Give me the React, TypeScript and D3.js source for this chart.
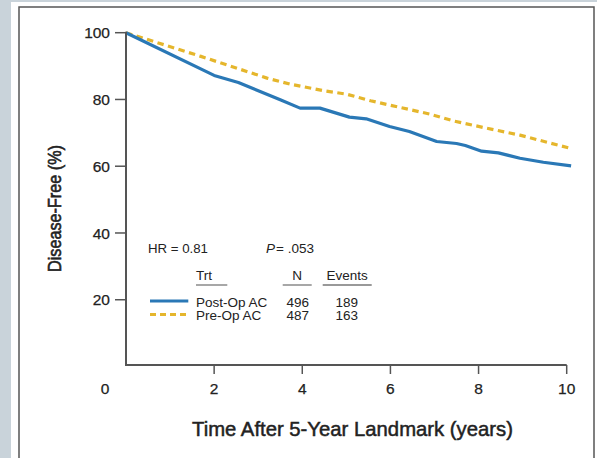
import React from "react";
import * as d3 from "d3";

const W = 597;
const H = 458;

// Disease-free curves (years, %)
const postOpX = [0, 2.0, 2.55, 3.5, 3.95, 4.4, 5.07, 5.45, 5.98, 6.43, 7.05, 7.5, 7.7, 8.07, 8.45, 8.94, 9.47, 10.1];
const postOpY = [100, 87.2, 85.1, 79.9, 77.4, 77.4, 74.7, 74.2, 71.9, 70.4, 67.4, 66.8, 66.2, 64.5, 64.0, 62.4, 61.2, 60.1];
const preOpX = [0, 1.7, 3.2, 3.72, 4.45, 5.0, 5.25, 5.55, 6.9, 7.42, 8.18, 8.94, 10.1];
const preOpY = [100, 92.9, 86.4, 84.6, 82.7, 81.6, 80.7, 79.6, 75.6, 73.6, 71.4, 69.3, 65.3];

const xTicks = [2, 4, 6, 8, 10];
const yTicks = [20, 40, 60, 80, 100];

const trtNames = ["Post-Op AC", "Pre-Op AC"];
const trtN = ["496", "487"];
const trtEvents = ["189", "163"];
const hrText = "HR = 0.81";
const pText = "= .053";

const BLUE = "#2a78b6";
const YELLOW = "#e5b62c";
const AXIS = "#555";
const TXT = "#222";
const FONT = "'Liberation Sans', Arial, Helvetica, sans-serif";

export default function App() {
  const x = d3.scaleLinear().domain([0, 10]).range([126, 566.7]);
  const y = d3.scaleLinear().domain([0, 100]).range([366.5, 32.7]);
  const axisY = 365;

  const mk = (xs: number[], ys: number[]) =>
    d3
      .line<number>()
      .x((d) => x(d))
      .y((_, i) => y(ys[i]))(xs) as string;

  const postPath = mk(postOpX, postOpY);
  const prePath = mk(preOpX, preOpY);

  const rowY = [306.5, 320];
  const colors = [BLUE, YELLOW];

  return (
    <svg
      width={W}
      height={H}
      style={{ position: "absolute", left: 0, top: 0 }}
      fontFamily={FONT}
    >
      <rect x={0} y={0} width={W} height={H} fill="#c9d3da" />
      <rect x={11} y={2} width={W - 11} height={H} fill="#ffffff" />
      <rect x={19} y={7} width={575} height={470} fill="#ffffff" stroke={AXIS} strokeWidth={1.5} />

      {/* curves */}
      <path d={prePath} fill="none" stroke={YELLOW} strokeWidth={3.2} strokeDasharray="6.5 4.5" />
      <path d={postPath} fill="none" stroke={BLUE} strokeWidth={3.2} strokeLinejoin="round" />

      {/* axes */}
      <line x1={x(0)} x2={x(0)} y1={y(100) - 1} y2={axisY + 1} stroke={AXIS} strokeWidth={2} />
      <line x1={x(0) - 1} x2={x(10)} y1={axisY} y2={axisY} stroke={AXIS} strokeWidth={2} />
      {yTicks.map((t) => (
        <g key={"y" + t}>
          <line x1={x(0) - 11} x2={x(0)} y1={y(t)} y2={y(t)} stroke={AXIS} strokeWidth={1.5} />
          <text x={110} y={y(t)} dy="0.36em" textAnchor="end" fontSize={15.5} fill={TXT} stroke={TXT} strokeWidth={0.25}>
            {t}
          </text>
        </g>
      ))}
      {xTicks.map((t) => (
        <g key={"x" + t}>
          <line x1={x(t)} x2={x(t)} y1={axisY} y2={axisY + 9} stroke={AXIS} strokeWidth={1.5} />
          <text x={x(t)} y={394} textAnchor="middle" fontSize={15.5} fill={TXT} stroke={TXT} strokeWidth={0.25}>
            {t}
          </text>
        </g>
      ))}
      <text x={105} y={394} textAnchor="middle" fontSize={15.5} fill={TXT} stroke={TXT} strokeWidth={0.25}>
        0
      </text>

      {/* axis titles */}
      <text
        transform="translate(61,208.5) rotate(-90)"
        textAnchor="middle"
        fontSize={18}
        fill={TXT}
        stroke={TXT}
        strokeWidth={0.6}
        textLength={127}
        lengthAdjust="spacingAndGlyphs"
      >
        Disease-Free (%)
      </text>
      <text
        x={352.5}
        y={436}
        textAnchor="middle"
        fontSize={21}
        fill={TXT}
        stroke={TXT}
        strokeWidth={0.5}
        textLength={321}
        lengthAdjust="spacingAndGlyphs"
      >
        Time After 5-Year Landmark (years)
      </text>

      {/* legend */}
      <text x={148} y={253} fontSize={13.5} fill={TXT} textLength={60} lengthAdjust="spacingAndGlyphs">
        {hrText}
      </text>
      <text x={266} y={253} fontSize={13.5} fill={TXT}>
        <tspan fontStyle="italic">P</tspan>
        <tspan dx={1}>{pText}</tspan>
      </text>
      <text x={196} y={280} fontSize={13.5} fill={TXT}>Trt</text>
      <text x={297.2} y={280} fontSize={13.5} fill={TXT} textAnchor="middle">N</text>
      <text x={347.2} y={280} fontSize={13.5} fill={TXT} textAnchor="middle">Events</text>
      <line x1={196} x2={227.3} y1={285} y2={285} stroke="#777" strokeWidth={1.3} />
      <line x1={282.7} x2={311.7} y1={285} y2={285} stroke="#777" strokeWidth={1.3} />
      <line x1={322.7} x2={371.7} y1={285} y2={285} stroke="#777" strokeWidth={1.3} />
      {trtNames.map((n, i) => (
        <g key={n}>
          <line
            x1={150}
            x2={188.3}
            y1={rowY[i] - 5.5}
            y2={rowY[i] - 5.5}
            stroke={colors[i]}
            strokeWidth={3}
            strokeDasharray={i === 1 ? "6 4" : undefined}
          />
          <text x={196} y={rowY[i]} fontSize={13.5} fill={TXT}>{n}</text>
          <text x={297.7} y={rowY[i]} fontSize={13.5} fill={TXT} textAnchor="middle">{trtN[i]}</text>
          <text x={346.7} y={rowY[i]} fontSize={13.5} fill={TXT} textAnchor="middle">{trtEvents[i]}</text>
        </g>
      ))}
    </svg>
  );
}
